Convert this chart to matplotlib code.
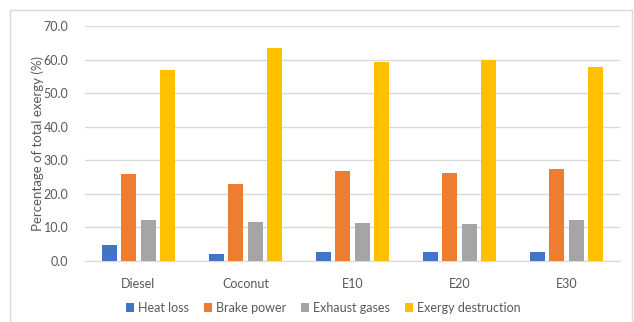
import matplotlib
matplotlib.use("Agg")
import matplotlib.pyplot as plt
import numpy as np
from matplotlib.patches import Rectangle

plt.rcParams['font.family'] = ['Lato', 'DejaVu Sans']

fuels = ["Diesel", "Coconut", "E10", "E20", "E30"]
series_names = ["Heat loss", "Brake power", "Exhaust gases", "Exergy destruction"]
heat_loss = [4.8, 2.0, 2.8, 2.8, 2.8]
brake_power = [25.9, 22.8, 26.7, 26.2, 27.3]
exhaust_gases = [12.2, 11.7, 11.4, 11.1, 12.2]
exergy_destruction = [56.8, 63.4, 59.2, 59.8, 57.7]
y_ticks = [0, 10, 20, 30, 40, 50, 60, 70]

colors = ["#4472C4", "#ED7D31", "#A5A5A5", "#FFC000"]
text_color = "#595959"

fig = plt.figure(figsize=(6.34, 3.22), dpi=100)
W, H = 634, 322
ax = fig.add_axes([85 / W, 1 - 261 / H, (620 - 85) / W, (261 - 26) / H])

# chart frame
fig.patches.append(Rectangle((10 / W, -0.05), (632 - 10) / W, 1 - 10 / H + 0.05,
                             transform=fig.transFigure, fill=False,
                             edgecolor="#D9D9D9", linewidth=1.0))

x = np.arange(len(fuels))
pitch = 0.182
bw = 0.142
all_series = [heat_loss, brake_power, exhaust_gases, exergy_destruction]
for i, (vals, name, c) in enumerate(zip(all_series, series_names, colors)):
    ax.bar(x + (i - 1.5) * pitch, vals, width=bw, color=c, label=name, zorder=3)

ax.set_xlim(-0.5, len(fuels) - 0.5)
ax.set_ylim(0, 70)
ax.set_yticks(y_ticks)
ax.set_yticklabels([f"{v:.1f}" for v in y_ticks])
ax.set_xticks(x)
ax.set_xticklabels(fuels)
ax.yaxis.grid(True, color="#D9D9D9", linewidth=1.0, zorder=0)
for s in ["top", "right", "left"]:
    ax.spines[s].set_visible(False)
ax.spines["bottom"].set_color("#D9D9D9")
ax.tick_params(axis="both", length=0, colors=text_color, labelsize=9)
ax.tick_params(axis="x", pad=12)
ax.tick_params(axis="y", pad=12)
ax.set_ylabel("Percentage of total exergy (%)", color=text_color, fontsize=9.5)
ax.yaxis.set_label_coords(-0.077, 0.5)

leg = fig.legend(loc="center", bbox_to_anchor=(0.51, 1 - 308 / H), ncol=4, frameon=False,
                 fontsize=9, handlelength=0.65, handleheight=0.65, handletextpad=0.3,
                 columnspacing=1.2)
for t in leg.get_texts():
    t.set_color(text_color)

fig.savefig("out.png", dpi=100)
